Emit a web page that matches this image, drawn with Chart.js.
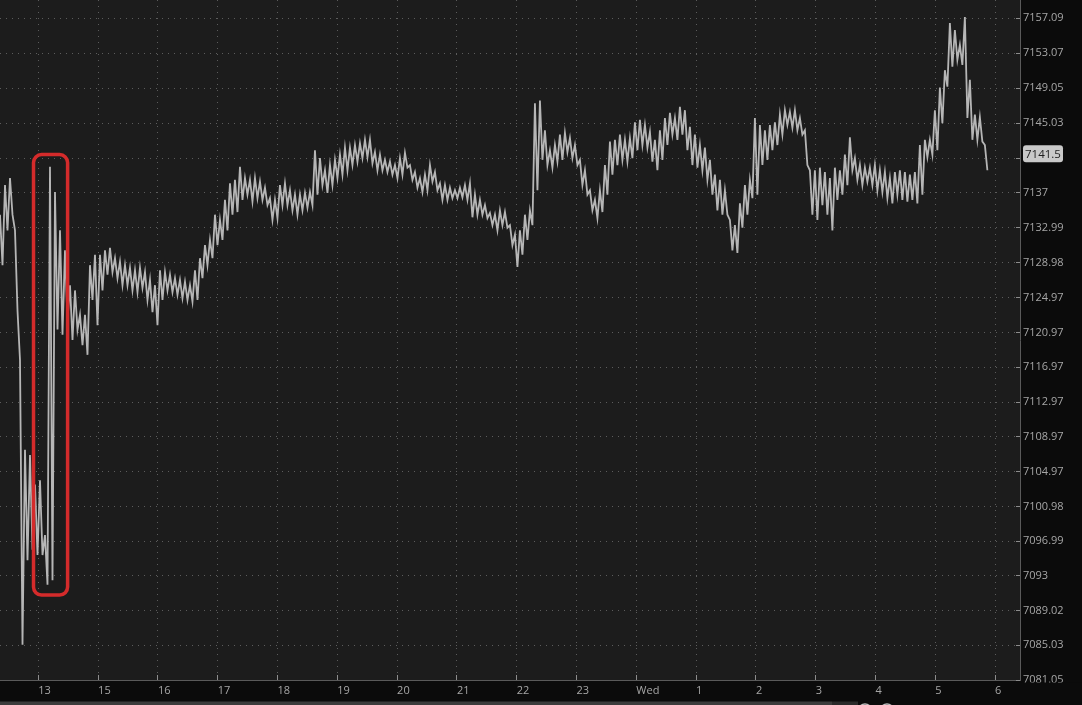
<!DOCTYPE html>
<html>
<head>
<meta charset="utf-8">
<style>
  html, body { margin: 0; padding: 0; background: #0b0b0b; overflow: hidden; }
  canvas { display: block; }
</style>
</head>
<body>
<canvas id="chart" width="1082" height="705"></canvas>
<script src="https://cdn.jsdelivr.net/npm/chart.js@4.4.1/dist/chart.umd.min.js"></script>
<script>
// x axis works in hour slots: slot 0 is the "13" line, slot 10 is "Wed"
const xLabels = ['13', '15', '16', '17', '18', '19', '20', '21', '22', '23', 'Wed', '1', '2', '3', '4', '5', '6'];
const yTicks = [7157.09, 7153.07, 7149.05, 7145.03, 7141.01, 7137, 7132.99, 7128.98, 7124.97, 7120.97,
  7116.97, 7112.97, 7108.97, 7104.97, 7100.98, 7096.99, 7093, 7089.02, 7085.03, 7081.05];
const yMin = 7081.05;
const yMax = 7159.16;
const xMin = -0.6405;
const xMax = 16.416;

// one high/low pair per sample, samples every startSlot + i * slotStep
const startSlot = -0.6405;
const slotStep = 0.0836;
const highs = [
  7134.5, 7137.9, 7138.7, 7132.7, 7117.8, 7107.5, 7106.9, 7103.5, 7104.0, 7097.7,
  7140.0, 7137.1, 7132.7, 7130.4, 7126.4, 7125.8, 7123.0, 7123.0, 7128.7, 7129.9,
  7129.9, 7130.4, 7130.7, 7129.5, 7129.1, 7128.7, 7128.4, 7128.1, 7128.4, 7127.9,
  7127.0, 7126.4, 7128.1, 7127.9, 7127.6, 7127.2, 7127.0, 7126.8, 7126.4, 7128.1,
  7129.5, 7131.0, 7131.6, 7134.5, 7133.9, 7136.2, 7138.1, 7138.5, 7140.0, 7138.7,
  7138.5, 7138.7, 7138.3, 7137.6, 7136.4, 7136.2, 7137.9, 7138.1, 7137.3, 7136.8,
  7136.8, 7137.0, 7137.1, 7141.9, 7141.0, 7139.6, 7140.2, 7140.8, 7141.4, 7142.2,
  7142.2, 7142.5, 7142.7, 7143.1, 7143.1, 7141.7, 7141.4, 7140.8, 7140.6, 7140.2,
  7141.0, 7141.6, 7140.2, 7139.4, 7138.7, 7139.1, 7140.2, 7139.4, 7138.1, 7137.9,
  7137.6, 7137.3, 7137.6, 7137.9, 7138.1, 7136.8, 7136.2, 7135.6, 7134.7, 7134.5,
  7135.0, 7134.8, 7133.3, 7132.2, 7132.7, 7134.5, 7135.0, 7147.3, 7147.6, 7144.2,
  7141.9, 7142.5, 7143.7, 7143.9, 7143.3, 7142.5, 7140.8, 7139.6, 7137.3, 7136.2,
  7137.3, 7140.2, 7142.9, 7143.1, 7143.7, 7143.1, 7143.3, 7145.1, 7145.4, 7144.8,
  7144.0, 7143.1, 7144.2, 7145.6, 7146.2, 7145.6, 7146.9, 7146.5, 7144.6, 7143.7,
  7142.5, 7142.2, 7140.8, 7139.1, 7138.5, 7137.3, 7133.9, 7133.3, 7135.8, 7137.9,
  7138.5, 7145.6, 7144.8, 7144.2, 7144.8, 7145.1, 7146.0, 7146.5, 7146.3, 7146.5,
  7145.6, 7144.2, 7139.6, 7139.6, 7139.9, 7139.4, 7138.7, 7139.9, 7139.6, 7141.4,
  7143.4, 7141.0, 7140.2, 7139.9, 7139.9, 7140.2, 7139.6, 7139.4, 7138.7, 7139.4,
  7139.6, 7139.4, 7139.1, 7139.4, 7142.5, 7143.1, 7143.1, 7146.5, 7149.1, 7151.1,
  7156.5, 7155.7, 7154.0, 7157.2, 7150.0, 7146.0, 7145.7, 7142.5
];
const lows = [
  7128.7, 7132.7, 7134.5, 7123.5, 7085.1, 7094.8, 7096.0, 7095.4, 7095.4, 7092.0,
  7092.5, 7121.3, 7120.7, 7122.4, 7120.1, 7121.3, 7119.5, 7118.4, 7124.7, 7121.8,
  7125.8, 7127.6, 7127.9, 7127.2, 7126.4, 7126.4, 7125.8, 7125.6, 7126.1, 7124.7,
  7123.3, 7121.8, 7124.7, 7125.8, 7125.6, 7125.3, 7124.9, 7124.7, 7124.5, 7124.7,
  7127.2, 7128.7, 7129.5, 7131.0, 7131.6, 7132.7, 7134.5, 7134.8, 7136.2, 7136.8,
  7136.0, 7136.4, 7136.2, 7135.6, 7133.9, 7134.1, 7135.6, 7135.6, 7135.0, 7134.5,
  7135.0, 7135.3, 7135.6, 7136.8, 7137.9, 7137.0, 7137.9, 7138.7, 7139.1, 7139.6,
  7140.2, 7140.6, 7141.0, 7141.1, 7140.4, 7139.6, 7139.6, 7139.4, 7139.1, 7138.7,
  7139.1, 7139.9, 7138.5, 7137.6, 7137.1, 7137.3, 7138.3, 7137.3, 7136.2, 7136.2,
  7136.4, 7136.4, 7136.5, 7136.2, 7134.2, 7134.5, 7134.5, 7134.1, 7133.3, 7132.7,
  7133.3, 7133.0, 7131.0, 7128.5, 7129.9, 7131.6, 7133.3, 7137.3, 7140.8, 7140.2,
  7139.9, 7140.6, 7140.8, 7141.7, 7141.0, 7140.2, 7137.9, 7136.8, 7135.0, 7134.1,
  7134.8, 7136.8, 7139.1, 7140.2, 7140.8, 7140.6, 7141.0, 7141.9, 7142.5, 7142.2,
  7140.6, 7139.6, 7140.8, 7142.5, 7143.7, 7143.1, 7143.7, 7141.9, 7140.2, 7139.9,
  7139.6, 7138.5, 7136.8, 7135.0, 7134.5, 7134.5, 7130.4, 7130.1, 7133.0, 7134.5,
  7136.4, 7136.8, 7140.2, 7140.8, 7141.9, 7142.5, 7143.7, 7144.8, 7144.5, 7144.2,
  7143.7, 7140.2, 7134.5, 7133.9, 7135.6, 7134.5, 7132.7, 7136.2, 7136.8, 7137.9,
  7139.6, 7138.5, 7137.9, 7138.3, 7137.9, 7137.3, 7137.1, 7136.4, 7135.8, 7136.8,
  7136.2, 7136.0, 7136.2, 7135.8, 7136.8, 7141.1, 7141.4, 7141.9, 7145.0, 7149.2,
  7151.5, 7152.3, 7151.7, 7145.6, 7143.1, 7143.1, 7142.9, 7139.6
];
const lastPrice = 7141.5;

// red highlight box around the "13" drop, in slot / price units
const highlight = { from: -0.08, to: 0.49, top: 7141.4, bottom: 7090.8 };

const FONT = { family: 'Open Sans', size: 11 };
const LABEL = '#a6a6a6';
const GRID = '#5c5c5c';
const AXIS = '#5a5a5a';

// interleave high and low so the trace scribbles like a tick chart
const trace = [];
highs.forEach((h, i) => {
  const t = startSlot + i * slotStep;
  trace.push({ x: t, y: h }, { x: t + slotStep / 2, y: lows[i] });
});

const frame = {
  id: 'frame',
  beforeDraw(chart) {
    const { ctx, chartArea: a, width, height } = chart;
    ctx.save();
    ctx.fillStyle = '#0b0b0b';
    ctx.fillRect(0, 0, width, height);
    ctx.fillStyle = '#1c1c1c';
    ctx.fillRect(a.left, a.top, a.right - a.left, a.bottom - a.top);
    ctx.restore();
  },
  afterDatasetsDraw(chart) {
    const { ctx, scales: { x, y } } = chart;
    const x0 = x.getPixelForValue(highlight.from);
    const x1 = x.getPixelForValue(highlight.to);
    const y0 = y.getPixelForValue(highlight.top);
    const y1 = y.getPixelForValue(highlight.bottom);
    ctx.save();
    ctx.strokeStyle = '#d42b2b';
    ctx.lineWidth = 3.5;
    ctx.beginPath();
    ctx.roundRect(x0, y0, x1 - x0, y1 - y0, 8);
    ctx.stroke();
    ctx.restore();
  },
  afterDraw(chart) {
    const { ctx, chartArea: a, scales: { x, y }, width, height } = chart;
    ctx.save();
    // short tick marks pointing into the plot
    ctx.strokeStyle = '#8c8c8c';
    ctx.lineWidth = 1;
    ctx.beginPath();
    yTicks.forEach(v => {
      const py = Math.round(y.getPixelForValue(v) - 0.5) + 0.5;
      ctx.moveTo(a.right - 4, py);
      ctx.lineTo(a.right, py);
    });
    xLabels.forEach((_, i) => {
      const px = Math.round(x.getPixelForValue(i) - 0.5) + 0.5;
      ctx.moveTo(px, a.bottom - 5);
      ctx.lineTo(px, a.bottom);
    });
    ctx.stroke();

    // bottom price label is cut by the time strip
    ctx.fillStyle = '#0b0b0b';
    ctx.fillRect(a.right + 1, a.bottom + 2.5, width - a.right, height - a.bottom);

    // last price tag
    const py = y.getPixelForValue(lastPrice);
    ctx.fillStyle = '#c9c9c9';
    ctx.beginPath();
    ctx.roundRect(a.right + 3, py - 8.5, 40, 17, 3);
    ctx.fill();
    ctx.fillStyle = '#1e1e1e';
    ctx.font = '11.5px "Open Sans"';
    ctx.textAlign = 'left';
    ctx.textBaseline = 'middle';
    ctx.fillText(String(lastPrice), a.right + 5, py + 0.5);

    // scrollbar and toolbar peeking in at the bottom
    ctx.fillStyle = '#3c3c3c';
    ctx.fillRect(0, height - 3.5, 832, 3.5);
    ctx.fillStyle = '#2a2a2a';
    ctx.fillRect(832, height - 3.5, 26, 3.5);
    ctx.strokeStyle = '#bdbdbd';
    ctx.lineWidth = 1.3;
    [865, 887].forEach(cx => {
      ctx.beginPath();
      ctx.arc(cx, height + 6, 7, 0, Math.PI * 2);
      ctx.stroke();
    });
    ctx.restore();
  }
};

new Chart(document.getElementById('chart'), {
  type: 'line',
  data: {
    datasets: [{
      data: trace,
      borderColor: '#b6b6b6',
      borderWidth: 1.8,
      borderJoinStyle: 'miter',
      pointRadius: 0,
      tension: 0,
      fill: false
    }]
  },
  options: {
    responsive: false,
    animation: false,
    layout: { padding: 0 },
    plugins: { legend: { display: false }, tooltip: { enabled: false } },
    scales: {
      x: {
        type: 'linear',
        position: 'bottom',
        min: xMin,
        max: xMax,
        afterBuildTicks: s => { s.ticks = xLabels.map((_, i) => ({ value: i })); },
        afterFit: s => { s.height = 25; s.paddingLeft = 0; s.paddingRight = 0; },
        ticks: {
          callback: v => xLabels[v],
          align: 'start',
          autoSkip: false,
          maxRotation: 0,
          padding: 4,
          color: LABEL,
          font: FONT
        },
        grid: { color: GRID, drawTicks: false },
        border: { color: AXIS, dash: [1, 5] }
      },
      y: {
        type: 'linear',
        position: 'right',
        min: yMin,
        max: yMax,
        afterBuildTicks: s => { s.ticks = yTicks.map(v => ({ value: v })); },
        afterFit: s => { s.width = 62; s.paddingTop = 0; s.paddingBottom = 0; },
        ticks: {
          callback: v => String(v),
          autoSkip: false,
          padding: 3,
          color: LABEL,
          font: FONT
        },
        grid: { color: GRID, drawTicks: false },
        border: { color: AXIS, dash: [1, 5] }
      }
    }
  },
  plugins: [frame]
});
</script>
</body>
</html>
